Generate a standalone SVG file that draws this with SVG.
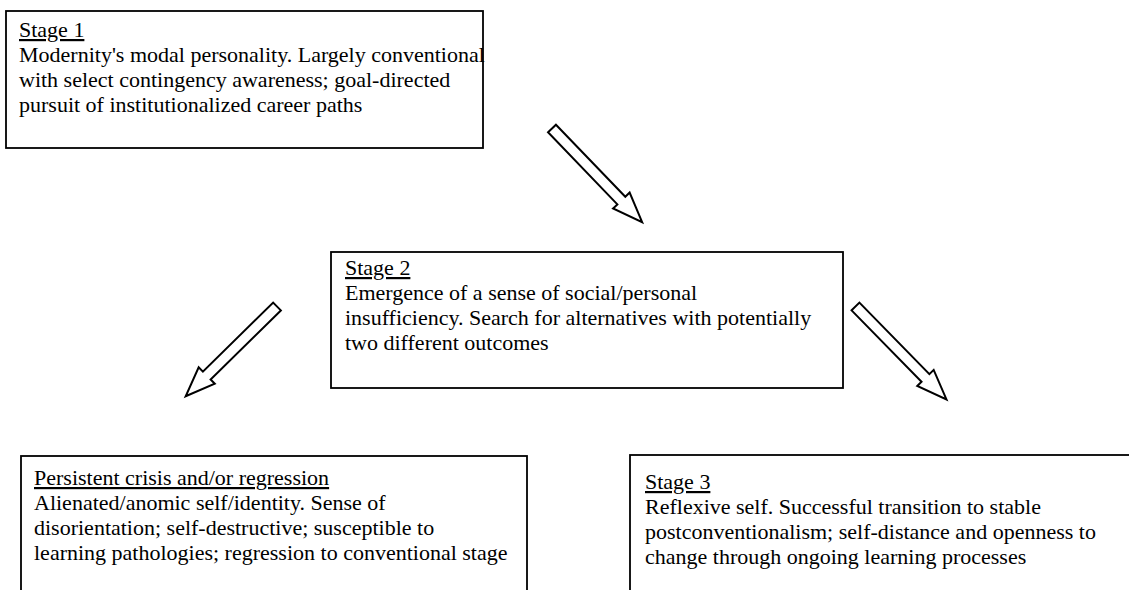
<svg xmlns="http://www.w3.org/2000/svg" xmlns:xlink="http://www.w3.org/1999/xlink" width="1129" height="590" viewBox="0 0 1129 590">
<style>
.box{fill:#fff;stroke:#000;stroke-width:1.8}
.t{font-family:"Liberation Serif","Times New Roman",serif;font-size:22px;fill:#000}
.u{text-decoration:underline}
.arr{fill:#fff;stroke:#000;stroke-width:2;stroke-linejoin:miter}
</style>
<defs>
<path id="blockArrow" d="M0,-5.5 L100,-5.5 L100,-11.5 L130,0 L100,11.5 L100,5.5 L0,5.5 Z"/>
</defs>
<rect width="1129" height="590" fill="#fff"/>
<g id="connectors">
<use xlink:href="#blockArrow" class="arr" transform="translate(552,128.5) rotate(46.1)"/>
<use xlink:href="#blockArrow" class="arr" transform="translate(277,306.5) rotate(135.5) scale(0.985,1)"/>
<use xlink:href="#blockArrow" class="arr" transform="translate(855.5,306.5) rotate(45.6)"/>
</g>
<g id="stage1">
<rect class="box" x="6" y="11" width="477" height="137"/>
<text class="t" x="19" y="37"><tspan class="u">Stage 1</tspan><tspan x="19" dy="25">Modernity's modal personality. Largely conventional</tspan><tspan x="19" dy="25">with select contingency awareness; goal-directed</tspan><tspan x="19" dy="25">pursuit of institutionalized career paths</tspan></text>
</g>
<g id="stage2">
<rect class="box" x="331" y="252" width="512" height="136"/>
<text class="t" x="345" y="275"><tspan class="u">Stage 2</tspan><tspan x="345" dy="25">Emergence of a sense of social/personal</tspan><tspan x="345" dy="25">insufficiency. Search for alternatives with potentially</tspan><tspan x="345" dy="25">two different outcomes</tspan></text>
</g>
<g id="crisis">
<rect class="box" x="21" y="456" width="506" height="150"/>
<text class="t" x="34" y="485"><tspan class="u">Persistent crisis and/or regression</tspan><tspan x="34" dy="25">Alienated/anomic self/identity. Sense of</tspan><tspan x="34" dy="25">disorientation; self-destructive; susceptible to</tspan><tspan x="34" dy="25">learning pathologies; regression to conventional stage</tspan></text>
</g>
<g id="stage3">
<rect class="box" x="630" y="455" width="520" height="150"/>
<text class="t" x="645" y="489"><tspan class="u">Stage 3</tspan><tspan x="645" dy="25">Reflexive self. Successful transition to stable</tspan><tspan x="645" dy="25">postconventionalism; self-distance and openness to</tspan><tspan x="645" dy="25">change through ongoing learning processes</tspan></text>
</g>
</svg>
